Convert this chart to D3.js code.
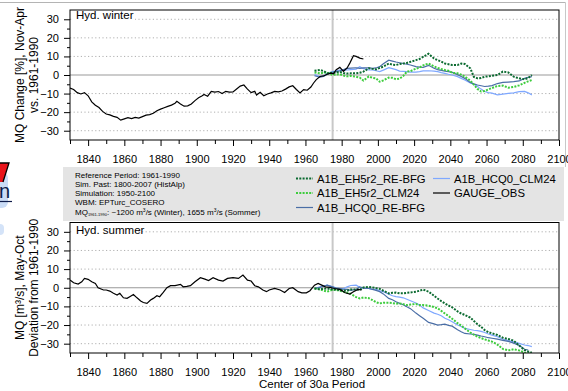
<!DOCTYPE html>
<html>
<head>
<meta charset="utf-8">
<script src="https://cdn.jsdelivr.net/npm/d3@7"></script>
<style>
  body { margin: 0; background: #fff; }
  svg { display: block; font-family: "Liberation Sans", Arial, sans-serif; }
</style>
</head>
<body>
<div id="chart"></div>
<script>
// tick values
var xTicks = [1840, 1860, 1880, 1900, 1920, 1940, 1960, 1980, 2000, 2020, 2040, 2060, 2080, 2100];
var xMinor = [1830, 1850, 1870, 1890, 1910, 1930, 1950, 1970, 1990, 2010, 2030, 2050, 2070, 2090];
var yTicks = [-30, -20, -10, 0, 10, 20, 30];
var yMinor = [-25, -15, -5, 5, 15, 25];
var refYear = 1975;

// observed gauge, winter
var obsWinterYears = [1830,1832,1834,1836,1838,1840,1842,1844,1846,1848,1850,1852,1854,1856,1858,1860,1862,1864,1866,1868,1870,1872,1874,1876,1878,1880,1882,1884,1886,1888,1889,1891,1893,1895,1897,1899,1901,1903,1904,1906,1908,1910,1912,1914,1916,1918,1920,1922,1924,1926,1928,1930,1932,1933,1935,1937,1939,1941,1943,1945,1947,1949,1951,1953,1955,1957,1959,1961,1963,1964.5,1966,1968,1970,1972,1974,1975.5,1977,1979,1981,1983,1984.5,1986.5,1988,1990,1992];
var obsWinter = [-7,-7.8,-9.5,-10.2,-9.5,-11.2,-14.5,-16.3,-17.5,-19.6,-21,-21.5,-22.3,-22.8,-24.3,-23.6,-23.0,-23.5,-22.8,-23.2,-22.4,-21.6,-21.3,-20.6,-19.2,-18.4,-17.6,-16.9,-16.2,-15.2,-14.2,-15.6,-16.8,-16.6,-15.6,-13.8,-12.3,-11.2,-10.5,-11.4,-8.8,-9.2,-8.9,-10,-8.8,-9.2,-9.1,-7.5,-6.0,-5.4,-7.6,-9.5,-8.8,-10.8,-9.3,-11.2,-10.2,-9.6,-8.8,-9.1,-8.6,-7.6,-6.4,-5.8,-7.8,-9.6,-7.9,-8.2,-6.5,-4.3,-2.5,-0.8,-0.5,0.4,1.0,0.6,2.9,4.1,2.0,3.8,6.4,10.4,10.0,9.1,8.6];

// observed gauge, summer
var obsSummerYears = [1830,1832,1834.5,1836.5,1838,1840,1842,1844,1845.5,1848.5,1850,1852,1854,1856,1857.5,1859.5,1861.5,1863,1865,1867,1869,1870.5,1872.5,1874.5,1876,1878,1879.5,1881.5,1883.5,1885.5,1888,1891,1892.5,1894.5,1896.5,1899,1902,1904.5,1906.5,1909,1912,1914.5,1917,1920,1923,1925.5,1928,1930,1932,1934,1936.5,1938.5,1940,1943,1946,1948.5,1951,1953,1956,1958,1960.5,1962.5,1965,1967,1969,1971,1973.5,1976,1979,1982,1984.5,1986.5,1989,1991];
var obsSummer = [4.1,2.7,2.0,3.2,5.0,4.5,3.2,2.3,0,-1.2,-1.2,-1.8,-3.0,-3.9,-3.0,-5.4,-5.7,-4.8,-3.6,-5.4,-7.1,-7.9,-8.4,-6.6,-5.7,-4.3,-4.8,-2.5,0,1.1,1.1,1.8,0.5,0.7,1.1,3.2,5.4,4.6,3.9,5.4,4.1,3.6,5.0,5.4,5.0,6.8,4.1,3.6,1.1,0.5,-1.2,-2.1,-1.2,-0.4,-1.2,-2.5,-0.4,0,-2.1,-2.7,-2.7,-1.6,1.4,2.3,1.4,0.5,0.2,-0.4,-0.9,-2.7,-3.4,-2.1,-0.9,-1.2];

// scenario runs (centre of 30a period)
var scenYears = [1965,1968,1970,1972,1975,1977,1979,1981,1983,1985,1988,1990,1992,1995,1997,1999,2001,2003,2006,2008,2010,2012,2014,2016,2018,2021,2023,2025,2028,2031,2033,2035,2037,2039,2041,2044,2046,2048,2051,2053,2055,2057,2059,2061,2063,2066,2069,2072,2075,2078,2081,2083,2085];

var winterEH5r2RE = [2.3,2.7,2.1,0.9,1.2,1.4,1.6,1.1,0.8,0.9,0.9,1.2,1.8,3.6,3.3,3.0,3.8,4.5,6.2,5.6,5.4,5.9,6.2,6.5,7.1,8.0,8.6,9.8,11.4,8.9,8.0,7.2,6.2,5.8,5.4,5.4,6.2,5.9,3.6,-1.0,-1.8,-1.6,-0.9,-0.7,-0.4,0,1.8,1.4,-0.9,-1.8,-2.3,-1.6,0];
var winterEH5r2CLM = [1.4,0.9,1.2,1.4,0,0.3,0.4,-0.3,-0.7,-0.5,-0.9,-1.4,-3.0,-0.8,-1.5,-1.8,-3.6,-2.9,-1.4,-1.5,-2.3,-2.0,-0.5,1.8,2.1,3.4,4.0,5.2,6.2,4.6,3.8,3.2,2.7,2.3,1.2,0.9,0.2,-0.9,-3.0,-5.2,-7.5,-8.9,-8.6,-7.8,-7.0,-5.9,-5.7,-6.8,-6.4,-5.6,-4.2,-3.4,-2.7];
var winterHCQ0RE = [-0.4,-1.2,-0.8,0.4,1.4,1.8,2.2,2.9,3.6,3.7,3.9,3.6,3.8,3.9,3.6,3.8,4.5,6.0,8.0,7.5,7.0,6.6,6.2,5.8,5.4,4.5,4.2,4.1,5.2,3.6,2.9,2.5,2.1,1.8,1.4,0.2,-0.8,-1.8,-4.0,-4.8,-5.4,-5.8,-6.2,-6.0,-5.7,-4.6,-4.0,-3.8,-3.6,-3.2,-1.8,-1.2,-0.9];
var winterHCQ0CLM = [0.2,-0.9,-0.5,0.9,1.8,2.3,2.7,2.6,2.7,2.9,3.2,4.5,3.4,2.8,2.7,2.3,1.8,2.6,3.9,3.4,2.9,2.1,2.0,1.8,1.5,1.6,1.8,2.2,2.3,2.1,1.8,1.3,0.9,0.4,0,-0.9,-1.8,-2.7,-4.3,-5.0,-6.2,-7.6,-8.9,-9.5,-9.8,-10.7,-10.3,-9.9,-9.6,-9.0,-8.8,-9.6,-10.7];

var summerEH5r2RE = [-0.4,-0.9,-0.5,-0.4,-0.9,-1.0,-1.2,-1.5,-1.6,-0.9,-0.9,-1.2,0.2,0.5,0.2,-0.2,-0.6,-1.6,-3.0,-2.7,-2.6,-3.0,-3.0,-2.7,-2.5,-2.1,-1.6,-1.0,-2.1,-4.3,-5.8,-7.2,-8.4,-9.5,-10.5,-12.7,-13.8,-14.6,-16.0,-17.8,-19.6,-21.0,-22.7,-23.8,-24.5,-25.3,-26.8,-27.5,-28.4,-31.0,-33.4,-34.2,-34.8];
var summerEH5r2CLM = [-0.4,-0.7,-1.5,-2.1,-1.0,-1.2,-1.6,-2.2,-2.7,-3.3,-5.0,-5.7,-5.2,-5.6,-6.6,-7.8,-8.4,-8.0,-8.0,-8.2,-8.6,-8.4,-8.8,-9.3,-9.0,-8.7,-9.3,-9.3,-9.6,-10.4,-11.0,-12.4,-13.8,-15.2,-16.6,-19.0,-20.3,-21.8,-24.0,-25.2,-26.2,-27.0,-27.7,-28.3,-28.9,-30.5,-32.8,-33.6,-33.0,-33.6,-34.8,-35.2,-35.5];
var summerHCQ0RE = [-0.4,0.2,0.8,1.4,0.5,-0.2,-0.4,-0.8,-0.9,-1.4,-0.8,0.5,-0.2,-0.4,-0.9,-1.4,-2.1,-3.3,-5.7,-6.4,-7.5,-8.4,-9.1,-10.2,-11.2,-13.6,-15.0,-16.4,-18.6,-19.4,-20.0,-19.8,-19.5,-20.2,-20.6,-22.5,-23.6,-24.5,-24.8,-25.0,-25.4,-25.9,-26.3,-26.8,-27.1,-27.6,-28.2,-28.8,-29.7,-30.9,-33.0,-33.4,null];
var summerHCQ0CLM = [-0.4,0.5,0.9,1.4,0.5,-0.2,-0.4,-0.6,0.5,1.2,1.4,0.2,-0.2,-0.4,-0.9,-0.9,-1.6,-2.1,-3.4,-4.3,-4.8,-5.0,-5.4,-6.2,-7.0,-8.2,-9.3,-10.8,-12.2,-13.6,-14.2,-15.0,-16.4,-17.2,-18.2,-20.0,-20.8,-21.8,-22.4,-22.8,-23.0,-23.4,-24.0,-24.8,-25.4,-26.3,-27.6,-28.4,-29.0,-29.8,-30.7,-31.0,-31.6];

var seriesNames = ["A1B_EH5r2_RE-BFG", "A1B_EH5r2_CLM24", "A1B_HCQ0_RE-BFG", "A1B_HCQ0_CLM24", "GAUGE_OBS"];

var infoLines = ["Reference Period: 1961-1990", "Sim. Past: 1800-2007 (HistAlp)", "Simulation: 1950-2100", "WBM: EPTurc_COSERO"];

// styles per series
var styles = {
  "A1B_EH5r2_RE-BFG": {color: "#0b6a30", width: 2, dash: "2,1.3"},
  "A1B_EH5r2_CLM24":  {color: "#3dcc3d", width: 2, dash: "2,1.3"},
  "A1B_HCQ0_RE-BFG":  {color: "#4a6ea6", width: 1.2, dash: null},
  "A1B_HCQ0_CLM24":   {color: "#7fa8ff", width: 1.2, dash: null},
  "GAUGE_OBS":        {color: "#000", width: 1.2, dash: null}
};

var W = 568, H = 391;
var left = 70, right = 559;

var svg = d3.select("#chart").append("svg")
    .attr("width", W)
    .attr("height", H);

// decoration at far left (cut-off logo) and outer frame
svg.append("rect").attr("x", -10).attr("y", 172).attr("width", 18).attr("height", 36)
    .attr("rx", 6).style("fill", "#cadcf6");
svg.append("rect").attr("x", -6).attr("y", 224).attr("width", 10).attr("height", 11)
    .attr("rx", 4).style("fill", "#d4e3f8");
svg.append("path").attr("d", "M0,163 L9,163 L3,182 L0,182 Z")
    .style("fill", "#e8141b");
svg.append("path").attr("d", "M0,163 L9,163 L3,182")
    .style("fill", "none").style("stroke", "#000").style("stroke-width", 1.3);
svg.append("text").attr("x", -1).attr("y", 198).text("n")
    .style("font-size", "20px").style("fill", "#0d1b4a");
svg.append("line").attr("x1", 0).attr("x2", 12).attr("y1", 201.5).attr("y2", 201.5)
    .style("stroke", "#0d1b4a").style("stroke-width", 1.2);
svg.append("line").attr("x1", 0).attr("x2", 565.5).attr("y1", 2.5).attr("y2", 2.5)
    .style("stroke", "#b4b4b4");
svg.append("line").attr("x1", 565.5).attr("x2", 565.5).attr("y1", 2.5).attr("y2", 167)
    .style("stroke", "#c8c8c8");

var x = d3.scaleLinear().domain([1830, 2100]).range([left, right]);

var panels = [
  {id: "w", top: 10, bottom: 140, label: "Hyd. winter", labelY: 19,
   title: ["MQ Change [%], Nov-Apr", "vs. 1961-1990"],
   obsYears: obsWinterYears, obs: obsWinter,
   runs: [winterHCQ0CLM, winterHCQ0RE, winterEH5r2CLM, winterEH5r2RE]},
  {id: "s", top: 222.5, bottom: 353, label: "Hyd. summer", labelY: 233.5,
   title: ["MQ [m\u00B3/s], May-Oct", "Deviation from 1961-1990"],
   obsYears: obsSummerYears, obs: obsSummer,
   runs: [summerHCQ0CLM, summerHCQ0RE, summerEH5r2CLM, summerEH5r2RE]}
];
var runNames = ["A1B_HCQ0_CLM24", "A1B_HCQ0_RE-BFG", "A1B_EH5r2_CLM24", "A1B_EH5r2_RE-BFG"];

panels.forEach(function(p) {
  var y = d3.scaleLinear().domain([-35, 35]).range([p.bottom, p.top]);
  var g = svg.append("g");

  g.append("clipPath").attr("id", "clip-" + p.id)
    .append("rect").attr("x", left).attr("y", p.top)
    .attr("width", right - left).attr("height", p.bottom - p.top);

  // grid
  g.selectAll(".grid").data(yTicks.filter(function(d) { return d !== 0; }))
    .enter().append("line")
      .attr("x1", left).attr("x2", right)
      .attr("y1", function(d) { return y(d); }).attr("y2", function(d) { return y(d); })
      .style("stroke", "#b0b0b0").style("stroke-width", 1)
      .style("stroke-dasharray", "1.2,2.4");
  g.append("line")
      .attr("x1", left).attr("x2", right)
      .attr("y1", y(0)).attr("y2", y(0))
      .style("stroke", "#999").style("stroke-width", 1);
  g.append("line")
      .attr("x1", x(refYear)).attr("x2", x(refYear))
      .attr("y1", p.top).attr("y2", p.bottom)
      .style("stroke", "#c8c8c8").style("stroke-width", 2);

  // panel label
  g.append("rect").attr("x", left + 3).attr("y", p.labelY - 9)
      .attr("width", 62).attr("height", 11).style("fill", "#fff");
  g.append("text").attr("x", left + 6).attr("y", p.labelY)
      .text(p.label).style("font-size", "11.5px").style("fill", "#000");

  // lines
  var line = d3.line()
      .defined(function(d) { return d[1] !== null; })
      .x(function(d) { return x(d[0]); })
      .y(function(d) { return y(d[1]); });

  var lines = g.append("g").attr("clip-path", "url(#clip-" + p.id + ")");
  p.runs.forEach(function(vals, i) {
    var st = styles[runNames[i]];
    lines.append("path")
        .datum(d3.zip(scenYears, vals))
        .attr("d", line)
        .style("fill", "none")
        .style("stroke", st.color)
        .style("stroke-width", st.width)
        .style("stroke-dasharray", st.dash);
  });
  lines.append("path")
      .datum(d3.zip(p.obsYears, p.obs))
      .attr("d", line)
      .style("fill", "none")
      .style("stroke", "#000")
      .style("stroke-width", 1.2);

  // frame
  g.append("rect").attr("x", left).attr("y", p.top)
      .attr("width", right - left).attr("height", p.bottom - p.top)
      .style("fill", "none").style("stroke", "#000").style("stroke-width", 1);

  // axes
  g.append("g").attr("transform", "translate(" + left + ",0)")
      .call(d3.axisLeft(y).tickValues(yTicks).tickSize(6).tickPadding(5));
  g.append("g").attr("transform", "translate(" + left + ",0)")
      .call(d3.axisLeft(y).tickValues(yMinor).tickSize(3).tickFormat(""));
  g.append("g").attr("transform", "translate(0," + p.bottom + ")")
      .call(d3.axisBottom(x).tickValues(xTicks).tickSize(6).tickPadding(9).tickFormat(d3.format("d")));
  g.append("g").attr("transform", "translate(0," + p.bottom + ")")
      .call(d3.axisBottom(x).tickValues(xMinor).tickSize(4).tickFormat(""));
  g.selectAll(".domain").remove();
  g.selectAll(".tick line").style("stroke", "#000");
  g.selectAll(".tick text").style("font-size", "11px").style("fill", "#000")
      .style("font-family", "'Liberation Sans', Arial, sans-serif");

  // y title
  var cy = (p.top + p.bottom) / 2;
  p.title.forEach(function(t, i) {
    g.append("text")
        .attr("transform", "translate(" + (24 + i * 13.5) + "," + cy + ") rotate(-90)")
        .attr("text-anchor", "middle")
        .style("font-size", "12px")
        .text(t);
  });
});

svg.append("text").attr("x", 312).attr("y", 388).attr("text-anchor", "middle")
    .style("font-size", "11.5px").text("Center of 30a Period");

// legend box
var lg = svg.append("g");
lg.append("rect").attr("x", 63).attr("y", 167).attr("width", 501).attr("height", 54)
    .style("fill", "#e4e4e4");

infoLines.forEach(function(t, i) {
  lg.append("text").attr("x", 75).attr("y", 177.5 + i * 9.3)
      .style("font-size", "8px").text(t);
});
var mq = lg.append("text").attr("x", 75).attr("y", 177.5 + 4 * 9.3).style("font-size", "8px");
mq.append("tspan").text("MQ");
mq.append("tspan").attr("dy", 1.5).style("font-size", "4px").text("1961-1990");
mq.append("tspan").attr("dy", -1.5).text(": ~1200 m");
mq.append("tspan").attr("dy", -2.5).style("font-size", "5px").text("3");
mq.append("tspan").attr("dy", 2.5).text("/s (Winter), 1655 m");
mq.append("tspan").attr("dy", -2.5).style("font-size", "5px").text("3");
mq.append("tspan").attr("dy", 2.5).text("/s (Sommer)");

var legendPos = [
  {lx: 296, ty: 178.5}, {lx: 296, ty: 193}, {lx: 296, ty: 207.5},
  {lx: 433, ty: 178.5}, {lx: 433, ty: 193}
];
seriesNames.forEach(function(name, i) {
  var pos = legendPos[i], st = styles[name];
  lg.append("line").attr("x1", pos.lx).attr("x2", pos.lx + 17)
      .attr("y1", pos.ty).attr("y2", pos.ty)
      .style("stroke", st.color).style("stroke-width", st.width)
      .style("stroke-dasharray", st.dash);
  lg.append("text").attr("x", pos.lx + 21).attr("y", pos.ty + 4)
      .style("font-size", "11.3px").text(name);
});
</script>
</body>
</html>
